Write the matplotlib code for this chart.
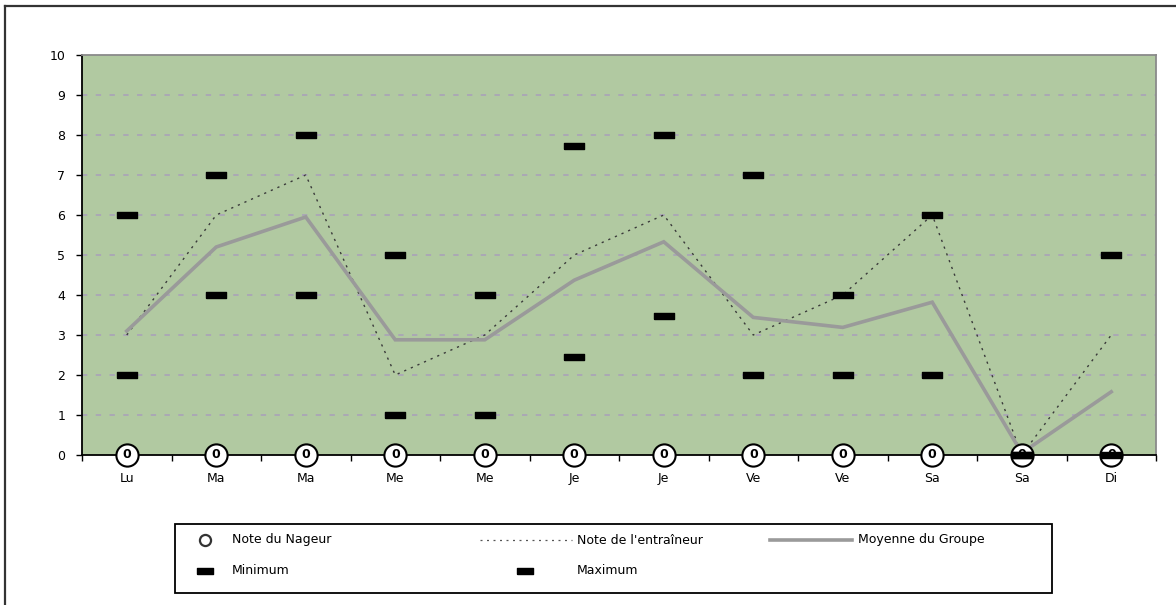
import matplotlib
matplotlib.use("Agg")
import matplotlib.pyplot as plt
from matplotlib.lines import Line2D
from matplotlib.patches import Rectangle
import numpy as np

# Days of the week (two sessions per day for most days)
days = ["Lu", "Ma", "Ma", "Me", "Me", "Je", "Je", "Ve", "Ve", "Sa", "Sa", "Di"]

note_nageur = [0, 0, 0, 0, 0, 0, 0, 0, 0, 0, 0, 0]
note_entraineur = [3, 6, 7, 2, 3, 5, 6, 3, 4, 6, 0, 3]
moyenne_groupe = [3.1, 5.2, 5.95, 2.88, 2.88, 4.37, 5.33, 3.44, 3.19, 3.82, 0.05, 1.58]
minimum = [2, 4, 4, 1, 1, 2.45, 3.48, 2, 2, 2, 0, 0]
maximum = [6, 7, 8, 5, 4, 7.72, 8, 7, 4, 6, 0, 5]
y_ticks = list(range(0, 11))

W, H = 1176, 605
fig = plt.figure(figsize=(W / 100, H / 100), dpi=100)
fig.patch.set_facecolor("white")

# outer chart frame (left and top edges visible)
fig.add_artist(Line2D([5 / W, 5 / W], [0, 1 - 6 / H], color="#333333", lw=1.6,
                      transform=fig.transFigure))
fig.add_artist(Line2D([5 / W, 1], [1 - 6 / H, 1 - 6 / H], color="#333333", lw=1.6,
                      transform=fig.transFigure))

ax = fig.add_axes([82 / W, (H - 455) / H, (1156 - 82) / W, (455 - 55) / H])
ax.set_facecolor("#b1c9a1")

x = np.arange(len(days))

# horizontal dashed gridlines
for v in y_ticks[1:-1]:
    ax.axhline(v, color="#a99fbb", lw=1.1, ls=(0, (3.5, 5.5)), zorder=1)

rect_marker = [(-1, -0.33), (1, -0.33), (1, 0.33), (-1, 0.33), (-1, -0.33)]

ent_style = dict(color="#3a3a3a", lw=1.0, ls=(0, (1.6, 3.6)))
moy_style = dict(color="#9a9a9a", lw=2.6)

ax.plot(x, note_entraineur, zorder=3, **ent_style)
ax.plot(x, moyenne_groupe, zorder=4, solid_joinstyle="miter", **moy_style)
ax.plot(x, note_nageur, ls="none", marker="o", ms=16, mfc="white",
        mec="black", mew=1.5, zorder=5, clip_on=False)
for xi, v in zip(x, note_nageur):
    ax.text(xi, v, f"{v:g}", ha="center", va="center", fontsize=9,
            fontweight="bold", zorder=6, clip_on=False)
ax.plot(x, minimum, ls="none", marker=rect_marker, ms=15, color="black",
        zorder=7, clip_on=False)
ax.plot(x, maximum, ls="none", marker=rect_marker, ms=15, color="black",
        zorder=7, clip_on=False)

ax.set_xlim(-0.5, len(days) - 0.5)
ax.set_ylim(0, 10)
ax.set_yticks(y_ticks)
ax.set_yticklabels([str(t) for t in y_ticks], fontsize=9)
ax.set_xticks(x)
ax.set_xticklabels(days, fontsize=9)
ax.set_xticks(np.arange(-0.5, len(days)), minor=True)
ax.tick_params(axis="x", which="major", length=0, pad=12)
ax.tick_params(axis="x", which="minor", length=4, direction="out", width=1)
ax.tick_params(axis="y", length=4, direction="out", width=1, pad=8)

for s in ["left", "bottom"]:
    ax.spines[s].set_color("black")
    ax.spines[s].set_linewidth(1.3)
for s in ["top", "right"]:
    ax.spines[s].set_color("#8a8a8a")
    ax.spines[s].set_linewidth(1.3)
ax.spines["bottom"].set_zorder(4.5)

# legend box, laid out in pixel coordinates
lg = fig.add_axes([0, 0, 1, 1], zorder=10)
lg.set_xlim(0, W)
lg.set_ylim(H, 0)
lg.axis("off")
lg.add_patch(Rectangle((175, 524), 1052 - 175, 593 - 524, fill=False,
                       edgecolor="black", lw=1.3))
row1, row2 = 540, 571
lg.plot([205], [row1], ls="none", marker="o", ms=8, mfc="white", mec="#333333", mew=1.6)
lg.text(232, row1, "Note du Nageur", fontsize=9, va="center")
lg.plot([480, 572], [row1, row1], **{**ent_style, "color": "#555555", "lw": 0.9})
lg.text(577, row1, "Note de l'entraîneur", fontsize=9, va="center")
lg.plot([770, 852], [row1, row1], **moy_style)
lg.text(858, row1, "Moyenne du Groupe", fontsize=9, va="center")
lg.plot([205], [row2], ls="none", marker=rect_marker, ms=12, color="black")
lg.text(232, row2, "Minimum", fontsize=9, va="center")
lg.plot([525], [row2], ls="none", marker=rect_marker, ms=12, color="black")
lg.text(577, row2, "Maximum", fontsize=9, va="center")

fig.savefig("out.png", dpi=100)
